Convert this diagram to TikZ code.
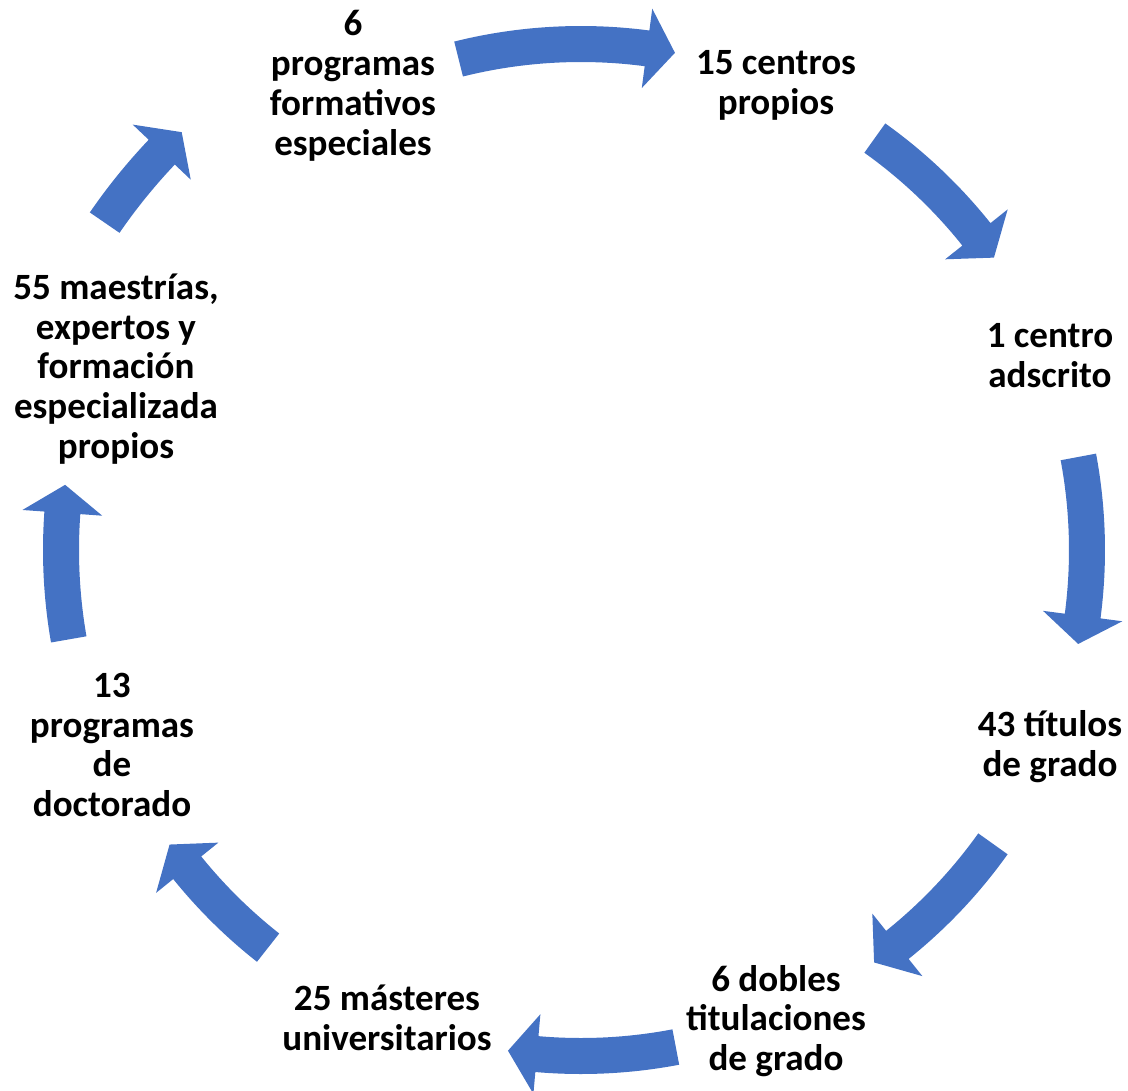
\documentclass[tikz,border=0pt]{standalone}
\usepackage{fontspec}
\setmainfont{Carlito}

\definecolor{zyklusblau}{HTML}{4472C4}
\tikzset{
	etikett/.style={align=center, inner sep=0pt, font=\bfseries\fontsize{21.1}{22.7}\selectfont},
	bogenpfeil/.style={fill=zyklusblau, draw=none}
}

\begin{document}
\begin{tikzpicture}[x=0.02cm, y=0.02cm]
	\def\w{18} %halbe Breite Schaft
	\def\h{40} %halbe Breite Spitze
	\useasboundingbox (-581,-540) rectangle (547,550);
	
	%Knoten
	\node[etikett] (progesp) at (-228, 464) {6\\programas\\formativos\\especiales};
	\node[etikett] (centros) at (195, 465) {15 centros\\propios};
	\node[etikett] (adscrito) at (469, 194) {1 centro\\adscrito};
	\node[etikett] (grado) at (469, -197) {43 títulos\\de grado};
	\node[etikett] (dobles) at (195, -471) {6 dobles\\titulaciones\\de grado};
	\node[etikett] (masteres) at (-194, -468) {25 másteres\\universitarios};
	\node[etikett] (doctorado) at (-469, -195) {13\\programas\\de\\doctorado};
	\node[etikett] (maestrias) at (-465, 181) {55 maestrías,\\expertos y\\formación\\especializada\\propios};
	
	%Pfeile: Ende / Basis Spitze / Spitze / Radius
	\foreach \t/\b/\p/\r in {104/82.5/79.3/506, 54.5/38.6/35.3/506, 10.6/-7.5/-10.7/506,
		-35.5/-51.3/-54.6/506, -79.2/-95/-98.3/506, 231.8/218.9/215.6/506,
		189.9/175.9/172.8/520, 145.5/136.5/133.7/578}
	{
		\fill[bogenpfeil] ({\t}:{\r+\w}) arc[start angle=\t, end angle=\b, radius=\r+\w]
		-- ({\b}:{\r+\h}) -- ({\p}:{\r}) -- ({\b}:{\r-\h}) -- ({\b}:{\r-\w})
		arc[start angle=\b, end angle=\t, radius=\r-\w] -- cycle;
	}
	
\end{tikzpicture}
\end{document}
